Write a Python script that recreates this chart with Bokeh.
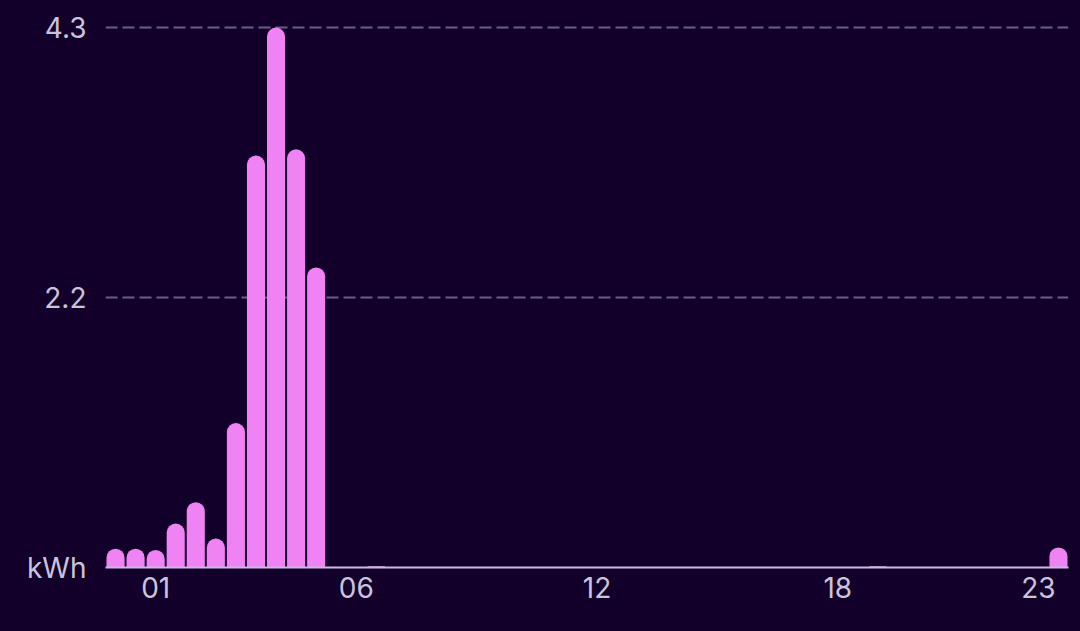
from bokeh.plotting import figure
from bokeh.models import FixedTicker, ColumnDataSource
from bokeh.embed import file_html
from bokeh.resources import INLINE

# half-hour slots 00:00 .. 23:30
slots = list(range(48))
energy_kwh = [0.15, 0.15, 0.14, 0.35, 0.52, 0.23, 1.15, 3.28, 4.30, 3.33, 2.39,
              0, 0, 0.01, 0, 0, 0, 0, 0, 0, 0, 0, 0, 0,
              0, 0, 0, 0, 0, 0, 0, 0, 0, 0, 0, 0,
              0, 0, 0.01, 0, 0, 0, 0, 0, 0, 0, 0, 0.16]
x_tick_slots = [2, 12, 24, 36, 46]
x_tick_labels = ["01", "06", "12", "18", "23"]
y_max = 4.3
y_ticks = [0, y_max / 2, y_max]
y_tick_labels = ["kWh", "2.2", "4.3"]

BG = "#12002a"
BAR = "#ef83f3"
TXT = "#cbc3de"
FONT = "Inter"

src = ColumnDataSource(dict(x=slots, top=energy_kwh))

p = figure(width=1072, height=623, output_backend="svg", toolbar_location=None,
           x_range=(-0.5, 47.5), y_range=(0, 4.356),
           min_border_left=105, min_border_right=4, min_border_top=20, min_border_bottom=56)
p.background_fill_color = BG
p.border_fill_color = BG
p.outline_line_color = None
p.outline_line_alpha = 0

p.vbar(x="x", top="top", bottom=0, width=0.9, source=src, fill_color=BAR,
       line_color=None, border_radius=(9, 9, 0, 0))

p.xaxis.ticker = FixedTicker(ticks=x_tick_slots)
p.xaxis.major_label_overrides = {t: l for t, l in zip(x_tick_slots, x_tick_labels)}
p.yaxis.ticker = FixedTicker(ticks=y_ticks)
p.yaxis.major_label_overrides = {t: l for t, l in zip(y_ticks, y_tick_labels)}

for ax in (p.xaxis, p.yaxis):
    ax.major_tick_line_color = None
    ax.minor_tick_line_color = None
    ax.major_label_text_color = TXT
    ax.major_label_text_font = FONT
    ax.major_label_text_font_size = "28px"
    ax.major_label_text_font_style = "normal"
p.xaxis.axis_line_color = "#c9b9e3"
p.xaxis.axis_line_width = 2
p.yaxis.axis_line_color = None
p.xaxis.major_label_standoff = 3
p.yaxis.major_label_standoff = 13

p.xgrid.grid_line_color = None
p.ygrid.ticker = FixedTicker(ticks=y_ticks[1:])
p.ygrid.grid_line_color = "#6a5f85"
p.ygrid.grid_line_width = 2
p.ygrid.grid_line_dash = "12 5"

html = file_html(p, INLINE)
html = html.replace("<head>", "<head><style>html,body{background:%s;}</style>" % BG, 1)
open("out.html", "w").write(html)
